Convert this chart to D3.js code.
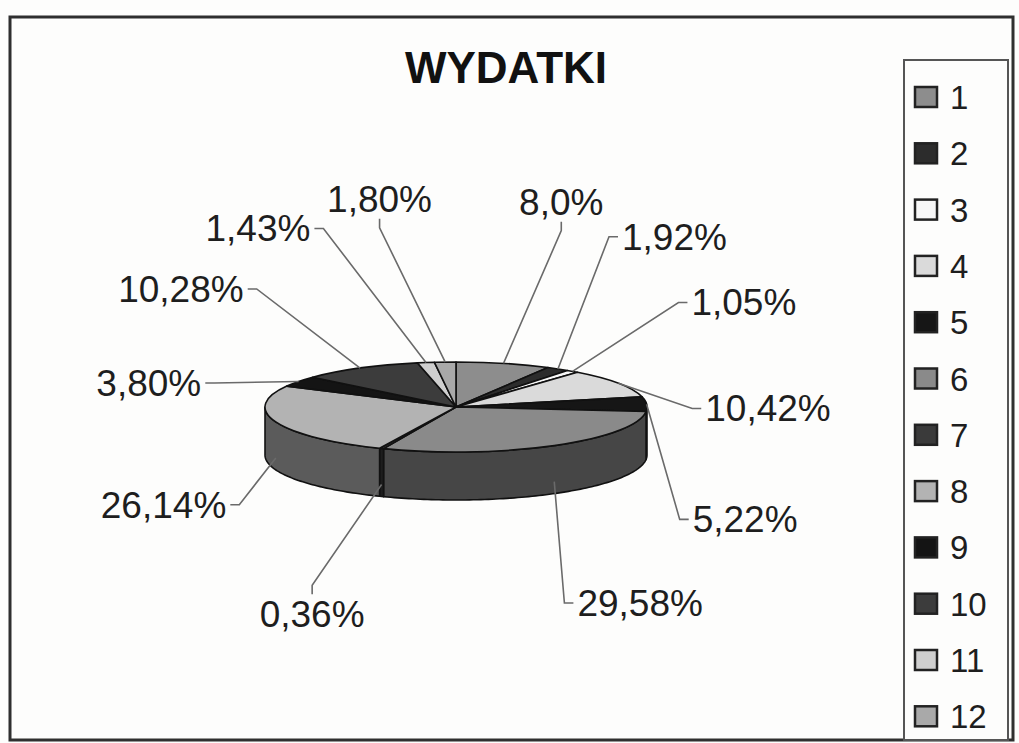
<!DOCTYPE html>
<html>
<head>
<meta charset="utf-8">
<script src="https://cdn.jsdelivr.net/npm/d3@7"></script>
<style>
  html, body { margin: 0; padding: 0; background: #fdfdfc; }
  svg { display: block; font-family: 'Liberation Sans', Arial, sans-serif; }
</style>
</head>
<body>
<div id="chart"></div>
<script>
// data
let title = 'WYDATKI'
let categories = ['1', '2', '3', '4', '5', '6', '7', '8', '9', '10', '11', '12']
let values = [8.0, 1.92, 1.05, 10.42, 5.22, 29.58, 0.36, 26.14, 3.80, 10.28, 1.43, 1.80]
let labels = ['8,0%', '1,92%', '1,05%', '10,42%', '5,22%', '29,58%', '0,36%', '26,14%', '3,80%', '10,28%', '1,43%', '1,80%']
let greys = ['#8d8d8d', '#2c2c2c', '#f7f7f7', '#dadada', '#161616', '#8a8a8a', '#3a3a3a', '#b3b3b3', '#141414', '#3c3c3c', '#cfcfcf', '#a9a9a9']

let w = 1019,
  h = 743,
  cx = 456,
  cy = 407,
  rx = 191,
  ry = 45,
  depth = 48

let svg = d3.select('#chart').append('svg')
  .attr('width', w)
  .attr('height', h)

// outer frame
svg.append('rect')
  .attr('x', 10).attr('y', 17)
  .attr('width', 1003).attr('height', 723)
  .attr('fill', '#fdfdfc')
  .attr('stroke', '#2f2f2f')
  .attr('stroke-width', 3)

svg.append('text')
  .attr('x', 506).attr('y', 83)
  .attr('text-anchor', 'middle')
  .style('font-size', '44px')
  .style('font-weight', 'bold')
  .style('fill', '#111')
  .text(title)

let fill = d3.scaleOrdinal().domain(categories).range(greys)

let pie = d3.pie().sort(null).value(d => d.value)
let arcs = pie(categories.map((c, i) => ({ key: c, value: values[i] })))

let pt = (a, dy) => [cx + rx * Math.sin(a), cy - ry * Math.cos(a) + (dy || 0)]
let line = d3.line()

// side walls, only the front half shows
let sides = svg.append('g').attr('class', 'sides')
arcs.forEach(d => {
  let s = Math.max(d.startAngle, Math.PI / 2),
    e = Math.min(d.endAngle, Math.PI * 3 / 2)
  if (e <= s) return
  let n = Math.max(2, Math.ceil((e - s) / 0.02)),
    top = d3.range(n + 1).map(k => pt(s + (e - s) * k / n)),
    bottom = top.map(p => [p[0], p[1] + depth]).reverse()
  sides.append('path')
    .attr('d', line(top.concat(bottom)) + 'Z')
    .attr('fill', d3.color(fill(d.data.key)).darker(1.9))
    .attr('stroke', '#111')
    .attr('stroke-width', 1.6)
    .attr('stroke-linejoin', 'round')
})

// top faces
let arc = d3.arc().innerRadius(0).outerRadius(rx)
svg.append('g')
  .attr('transform', `translate(${cx},${cy}) scale(1,${ry / rx})`)
  .selectAll('path')
  .data(arcs)
  .enter()
  .append('path')
  .attr('d', arc)
  .attr('fill', d => fill(d.data.key))
  .attr('stroke', '#111')
  .attr('stroke-width', 1.6)
  .attr('vector-effect', 'non-scaling-stroke')
  .attr('stroke-linejoin', 'round')

// label angles: start at slice middles, push apart so they don't collide
let minGap = 25
let ang = arcs.map(d => (d.startAngle + d.endAngle) / 2 * 180 / Math.PI)
for (let it = 0; it < 300; it++) {
  for (let i = 0; i < ang.length; i++) {
    let j = (i + 1) % ang.length
    let gap = ((ang[j] - ang[i]) % 360 + 360) % 360
    if (gap < minGap) {
      let d = (minGap - gap) / 2
      ang[i] -= d
      ang[j] += d
    }
  }
}

let lx = 310,
  ly = 216,
  lcx = 458,
  lcy = 412

let lab = svg.append('g').attr('class', 'labels')
arcs.forEach((d, i) => {
  let a = ang[i] * Math.PI / 180,
    s = Math.sin(a),
    c = Math.cos(a),
    px = lcx + lx * Math.sign(s) * Math.pow(Math.abs(s), 0.8),
    py = lcy - ly * Math.sign(c) * Math.pow(Math.abs(c), 0.8)

  let t = lab.append('text')
    .attr('x', px)
    .attr('y', py + 13)
    .attr('text-anchor', 'middle')
    .style('font-size', '37px')
    .style('fill', '#1e1e1e')
    .text(labels[i])
  let bw = t.node().getComputedTextLength(),
    bh = 28

  // leader start on the pie
  let mid = (d.startAngle + d.endAngle) / 2,
    start = Math.cos(mid) < -0.3 ? pt(mid, depth * 0.75) : pt(mid)
  let vx = start[0] - px,
    vy = start[1] - py,
    pts
  if (Math.abs(vx) > 0.6 * Math.abs(vy)) {
    let sx = Math.sign(vx),
      ex = px + sx * (bw / 2 + 4)
    pts = [start, [ex + sx * 9, py], [ex, py]]
  } else {
    let sy = Math.sign(vy),
      ey = py + sy * (bh / 2 + 6)
    pts = [start, [px, ey + sy * 9], [px, ey]]
  }
  lab.append('path')
    .attr('d', line(pts))
    .attr('fill', 'none')
    .attr('stroke', '#6a6a6a')
    .attr('stroke-width', 1.6)
})

// legend
let lg = svg.append('g').attr('class', 'legend')
lg.append('rect')
  .attr('x', 904).attr('y', 60)
  .attr('width', 104).attr('height', 680)
  .attr('fill', '#fdfdfc')
  .attr('stroke', '#555')
  .attr('stroke-width', 2)

let ly0 = 97,
  lstep = 56.3

let item = lg.selectAll('.item')
  .data(categories)
  .enter()
  .append('g')
  .attr('class', 'item')
  .attr('transform', (d, i) => `translate(0, ${ly0 + i * lstep})`)

item.append('rect')
  .attr('x', 915).attr('y', -10)
  .attr('width', 22).attr('height', 20)
  .attr('fill', d => fill(d))
  .attr('stroke', '#222')
  .attr('stroke-width', 2.5)

item.append('text')
  .attr('x', 950).attr('y', 12)
  .style('font-size', '33px')
  .style('fill', '#1e1e1e')
  .text(d => d)
</script>
</body>
</html>
